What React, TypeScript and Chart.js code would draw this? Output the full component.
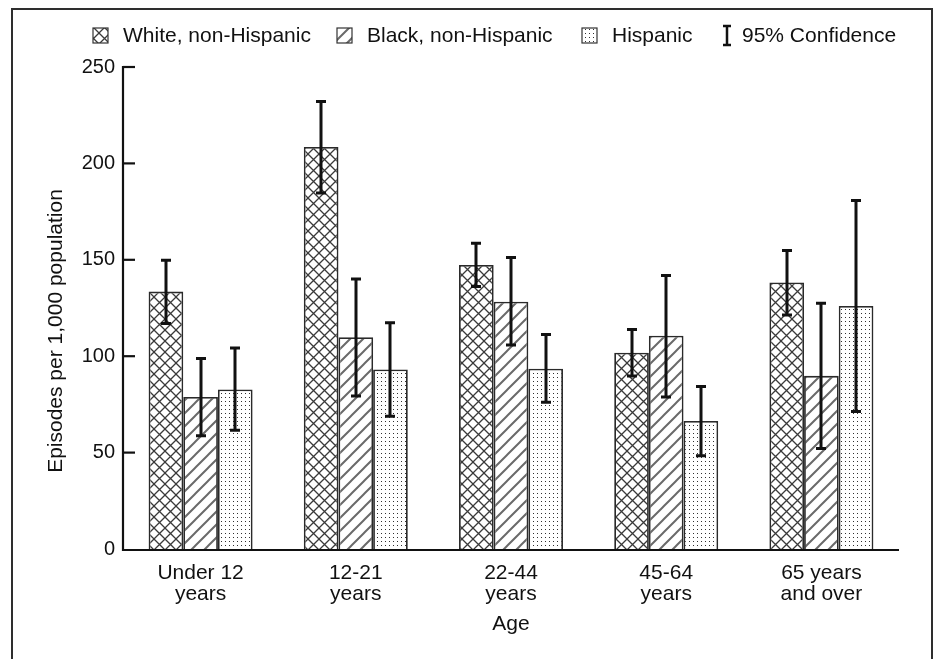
import React, { useEffect, useRef } from 'react';
import { Chart, registerables } from 'chart.js';

Chart.register(...registerables);

const FONT = '"Liberation Sans", Arial, Helvetica, sans-serif';
const INK = '#111111';

// Age groups (two-line category labels)
const ageGroups: string[][] = [
  ['Under 12', 'years'],
  ['12-21', 'years'],
  ['22-44', 'years'],
  ['45-64', 'years'],
  ['65 years', 'and over'],
];

const seriesLabels = ['White, non-Hispanic', 'Black, non-Hispanic', 'Hispanic'];
const confidenceLabel = '95% Confidence';

// Episodes per 1,000 population
const whiteRate = [133.5, 208.5, 147.3, 101.8, 138.2];
const blackRate = [78.9, 109.8, 128.3, 110.6, 89.8];
const hispanicRate = [82.7, 93.1, 93.5, 66.4, 126.0];

// 95% confidence bounds
const whiteLow = [117.0, 184.6, 136.1, 89.7, 121.4];
const whiteHigh = [149.8, 232.1, 158.6, 113.9, 154.8];
const blackLow = [58.8, 79.4, 105.8, 78.9, 52.1];
const blackHigh = [98.8, 140.1, 151.2, 141.8, 127.4];
const hispanicLow = [61.6, 68.9, 76.1, 48.4, 71.3];
const hispanicHigh = [104.2, 117.4, 111.3, 84.3, 180.8];

const yTicks = [0, 50, 100, 150, 200, 250];

type Kind = 'cross' | 'diag' | 'dots';

function makePattern(kind: Kind): CanvasPattern {
  const c = document.createElement('canvas');
  const s = kind === 'cross' ? 11 : kind === 'diag' ? 13 : 4;
  c.width = s;
  c.height = s;
  const g = c.getContext('2d')!;
  g.fillStyle = '#ffffff';
  g.fillRect(0, 0, s, s);
  if (kind === 'cross') {
    g.strokeStyle = '#3a3a3a';
    g.lineWidth = 1.3;
    g.beginPath();
    g.moveTo(0, 0);
    g.lineTo(s, s);
    g.moveTo(s, 0);
    g.lineTo(0, s);
    g.stroke();
  } else if (kind === 'diag') {
    g.strokeStyle = '#6a6a6a';
    g.lineWidth = 2;
    g.beginPath();
    g.moveTo(0, s);
    g.lineTo(s, 0);
    g.moveTo(-2, 2);
    g.lineTo(2, -2);
    g.moveTo(s - 2, s + 2);
    g.lineTo(s + 2, s - 2);
    g.stroke();
  } else {
    g.fillStyle = '#303030';
    g.fillRect(1, 1, 1, 1);
  }
  return g.createPattern(c, 'repeat')!;
}

export default function App() {
  const ref = useRef<HTMLCanvasElement | null>(null);

  useEffect(() => {
    const canvas = ref.current;
    if (!canvas) return;

    const patterns = [makePattern('cross'), makePattern('diag'), makePattern('dots')];
    const lows = [whiteLow, blackLow, hispanicLow];
    const highs = [whiteHigh, blackHigh, hispanicHigh];

    const overlay = {
      id: 'overlay',
      afterDatasetsDraw(chart: any) {
        const { ctx, scales } = chart;
        const x = scales.x;
        const y = scales.y;
        const y0 = y.getPixelForValue(0);
        const yTop = y.getPixelForValue(250);
        ctx.save();
        ctx.strokeStyle = INK;
        ctx.lineCap = 'butt';

        // axis lines
        ctx.lineWidth = 2.2;
        ctx.beginPath();
        ctx.moveTo(x.left, yTop - 1);
        ctx.lineTo(x.left, y0 + 1);
        ctx.lineTo(x.right, y0 + 1);
        ctx.stroke();

        // inward y ticks
        yTicks.forEach((v) => {
          if (v === 0) return;
          const py = y.getPixelForValue(v);
          ctx.beginPath();
          ctx.moveTo(x.left, py);
          ctx.lineTo(x.left + 12, py);
          ctx.stroke();
        });

        // confidence interval whiskers
        ctx.lineWidth = 3;
        chart.data.datasets.forEach((_: any, di: number) => {
          const meta = chart.getDatasetMeta(di);
          meta.data.forEach((bar: any, i: number) => {
            const px = Math.round(bar.x);
            const pLo = y.getPixelForValue(lows[di][i]);
            const pHi = y.getPixelForValue(highs[di][i]);
            ctx.beginPath();
            ctx.moveTo(px, pHi);
            ctx.lineTo(px, pLo);
            ctx.moveTo(px - 5, pHi);
            ctx.lineTo(px + 5, pHi);
            ctx.moveTo(px - 5, pLo);
            ctx.lineTo(px + 5, pLo);
            ctx.stroke();
          });
        });
        ctx.restore();
      },
      afterDraw(chart: any) {
        const { ctx } = chart;
        ctx.save();

        // outer frame
        ctx.strokeStyle = '#2e2e2e';
        ctx.lineWidth = 2;
        ctx.strokeRect(12, 9, 920, 720);

        // legend
        ctx.font = `21px ${FONT}`;
        ctx.fillStyle = INK;
        ctx.textBaseline = 'alphabetic';
        ctx.textAlign = 'left';
        const boxX = [93, 337, 582];
        seriesLabels.forEach((label, i) => {
          ctx.fillStyle = patterns[i];
          ctx.fillRect(boxX[i], 28, 15, 15);
          ctx.strokeStyle = '#333333';
          ctx.lineWidth = 1.2;
          ctx.strokeRect(boxX[i], 28, 15, 15);
          ctx.fillStyle = INK;
          ctx.fillText(label, boxX[i] + 30, 42);
        });
        // confidence glyph
        ctx.strokeStyle = INK;
        ctx.lineWidth = 2.5;
        ctx.beginPath();
        ctx.moveTo(727, 26);
        ctx.lineTo(727, 45);
        ctx.moveTo(723, 26);
        ctx.lineTo(731, 26);
        ctx.moveTo(723, 45);
        ctx.lineTo(731, 45);
        ctx.stroke();
        ctx.fillText(confidenceLabel, 742, 42);

        // y-axis title
        ctx.translate(62, 331);
        ctx.rotate(-Math.PI / 2);
        ctx.textAlign = 'center';
        ctx.fillText('Episodes per 1,000 population', 0, 0);
        ctx.restore();
      },
    };

    const chart = new Chart(canvas, {
      type: 'bar',
      data: {
        labels: ageGroups as any,
        datasets: [
          { label: seriesLabels[0], data: whiteRate, backgroundColor: patterns[0] as any },
          { label: seriesLabels[1], data: blackRate, backgroundColor: patterns[1] as any },
          { label: seriesLabels[2], data: hispanicRate, backgroundColor: patterns[2] as any },
        ].map((d) => ({
          ...d,
          borderColor: '#2a2a2a',
          borderWidth: 1.8,
          categoryPercentage: 0.67,
          barPercentage: 1.0,
        })),
      },
      options: {
        animation: false,
        responsive: false,
        events: [],
        devicePixelRatio: 1,
        layout: { padding: { top: 67, right: 39, left: 0, bottom: 0 } },
        plugins: {
          legend: { display: false },
          tooltip: { enabled: false },
          title: { display: false },
        },
        scales: {
          x: {
            type: 'category',
            grid: { display: false, drawTicks: false },
            border: { display: false },
            ticks: {
              color: INK,
              font: { family: FONT, size: 21, lineHeight: 1.0 },
              padding: 14,
              maxRotation: 0,
              autoSkip: false,
            },
            title: {
              display: true,
              text: 'Age',
              color: INK,
              font: { family: FONT, size: 21 },
              padding: { top: 0, bottom: 22 },
            },
            afterFit: (s: any) => {
              s.height = 110;
            },
          },
          y: {
            min: 0,
            max: 250,
            grid: { display: false, drawTicks: false },
            border: { display: false },
            ticks: {
              stepSize: 50,
              color: INK,
              font: { family: FONT, size: 20 },
              padding: 8,
            },
            afterFit: (s: any) => {
              s.width = 123;
            },
          },
        },
      },
      plugins: [overlay],
    });

    return () => chart.destroy();
  }, []);

  return (
    <div style={{ position: 'absolute', left: 0, top: 0, width: 938, height: 659, background: '#fff' }}>
      <canvas ref={ref} width={938} height={659} style={{ width: 938, height: 659, display: 'block' }} />
    </div>
  );
}
